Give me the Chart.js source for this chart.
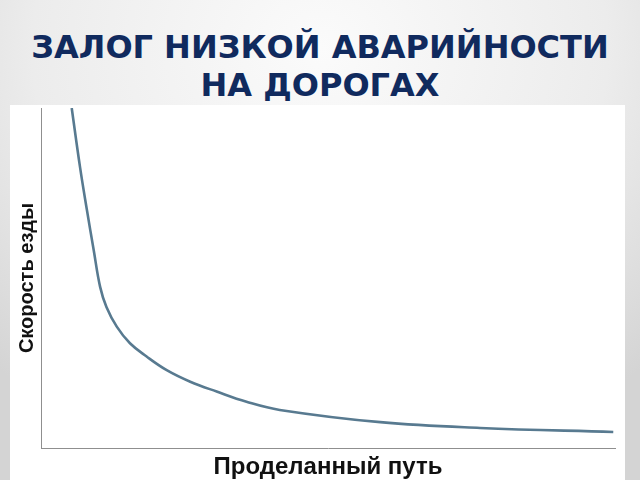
<!DOCTYPE html>
<html>
<head>
<meta charset="utf-8">
<script src="https://cdn.jsdelivr.net/npm/chart.js@4/dist/chart.umd.min.js"></script>
<style>
  html, body { margin: 0; padding: 0; }
  body {
    width: 640px; height: 480px; overflow: hidden; position: relative;
    background: radial-gradient(ellipse 75% 90% at 50% 10%, #fbfbfb 0%, #ececec 60%, #d4d4d4 100%);
  }
  #title {
    position: absolute; left: 0; top: 28px; width: 640px;
    text-align: center; color: #102a5e;
    font: bold 32px "DejaVu Sans", sans-serif; line-height: 38px;
  }
  #panel {
    position: absolute; left: 10px; top: 105px; width: 615px; height: 375px;
    background: #ffffff;
  }
</style>
</head>
<body>
<div id="title">ЗАЛОГ НИЗКОЙ АВАРИЙНОСТИ<br>НА ДОРОГАХ</div>
<div id="panel"><canvas id="myChart" width="615" height="375"></canvas></div>
<script>
// Curve (relative units)
const distance = [5.35, 6.8, 8.0, 9.2, 10.3, 11.4, 13.2, 15.5, 18.4, 21.9, 26.0, 30.6, 35.8, 41.6, 59.1, 76.5, 99.7];
const speed = [100, 82.6, 70.0, 58.0, 47.4, 41.5, 35.7, 30.8, 26.9, 22.9, 19.5, 16.6, 13.6, 11.2, 7.6, 5.9, 4.7];
const xTitle = 'Проделанный путь';
const yTitle = 'Скорость езды';

const points = distance.map((d, i) => ({ x: d, y: speed[i] }));

const titleFamily = '"Liberation Sans", Arial, sans-serif';

const config = {
    type: 'line',
    data: {
        datasets: [{
            data: points,
            borderColor: '#587a90',
            borderWidth: 2.6,
            pointRadius: 0,
            tension: 0.4,
            fill: false
        }]
    },
    options: {
        responsive: false,
        animation: false,
        layout: { padding: { left: 0, top: 3, right: 10, bottom: 1 } },
        plugins: { legend: { display: false }, tooltip: { enabled: false } },
        scales: {
            x: {
                type: 'linear', min: 0, max: 100,
                grid: { display: false, drawTicks: false },
                border: { display: true, color: '#8f8f8f', width: 1 },
                ticks: { display: false },
                title: { display: true, text: xTitle, color: '#111',
                    font: { family: titleFamily, size: 24, weight: 'bold', lineHeight: 1 },
                    padding: { top: 7, bottom: 0 } }
            },
            y: {
                min: 0, max: 100,
                grid: { display: false, drawTicks: false },
                border: { display: true, color: '#8f8f8f', width: 1 },
                ticks: { display: false },
                title: { display: true, text: yTitle, color: '#111',
                    font: { family: titleFamily, size: 20, weight: 'bold' }, padding: { top: 5, bottom: 2 } }
            }
        }
    }
};

const ctx = document.getElementById('myChart').getContext('2d');
new Chart(ctx, config);
</script>
</body>
</html>
